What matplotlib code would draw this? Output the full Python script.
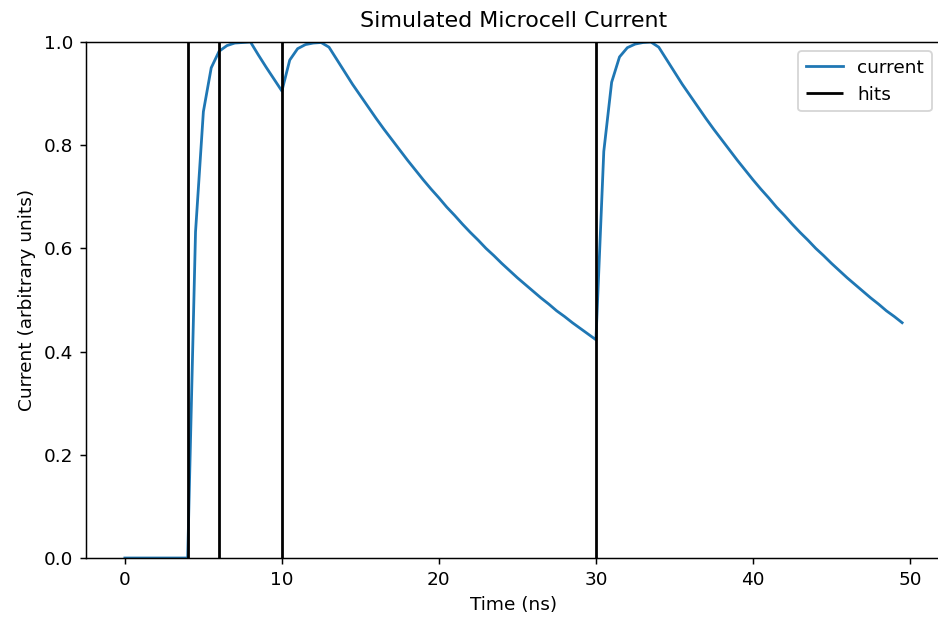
import matplotlib
matplotlib.use('Agg')
import matplotlib.pyplot as plt
import numpy as np

# time grid, 0.5 ns steps
time_ns = np.arange(0, 50, 0.5)

current = [
    0.0, 0.0, 0.0, 0.0, 0.0, 0.0, 0.0, 0.0,
    0.0, 0.632, 0.865, 0.950, 0.982, 0.993, 0.998, 0.999,
    1.0, 0.975, 0.951, 0.928, 0.905,
    0.965, 0.987, 0.995, 0.998, 0.999,
    0.990, 0.966, 0.942, 0.918, 0.896, 0.874, 0.852, 0.831, 0.811, 0.791,
    0.771, 0.752, 0.733, 0.715, 0.698, 0.680, 0.664, 0.647, 0.631, 0.616,
    0.600, 0.586, 0.571, 0.557, 0.543, 0.530, 0.517, 0.504, 0.492, 0.479,
    0.468, 0.456, 0.445, 0.434, 0.423,
    0.788, 0.922, 0.971, 0.989, 0.996, 0.999, 1.0,
    0.990, 0.966, 0.942, 0.918, 0.896, 0.874, 0.852, 0.831, 0.811, 0.791,
    0.771, 0.752, 0.733, 0.715, 0.698, 0.680, 0.664, 0.647, 0.631, 0.616,
    0.600, 0.586, 0.571, 0.557, 0.543, 0.530, 0.517, 0.504, 0.492, 0.479,
    0.468, 0.456,
]

hits = [4, 6, 10, 30]

dpi = 133
fig = plt.figure(figsize=(938/dpi, 617/dpi), dpi=dpi)
# right spine falls just outside the picture, as in the original crop
ax = fig.add_axes([86/938, 59/617, 855/938, 516/617])

ax.plot(time_ns, current, label='current')
ax.vlines(hits, 0, 1, color='black', label='hits')

ax.set_xlim(-2.475, 51.975)
ax.set_ylim(0, 1)
ax.set_title('Simulated Microcell Current', pad=8)
ax.set_xlabel('Time (ns)')
ax.set_ylabel('Current (arbitrary units)')
ax.legend(loc='upper right')

fig.savefig('out.png', dpi=dpi)
